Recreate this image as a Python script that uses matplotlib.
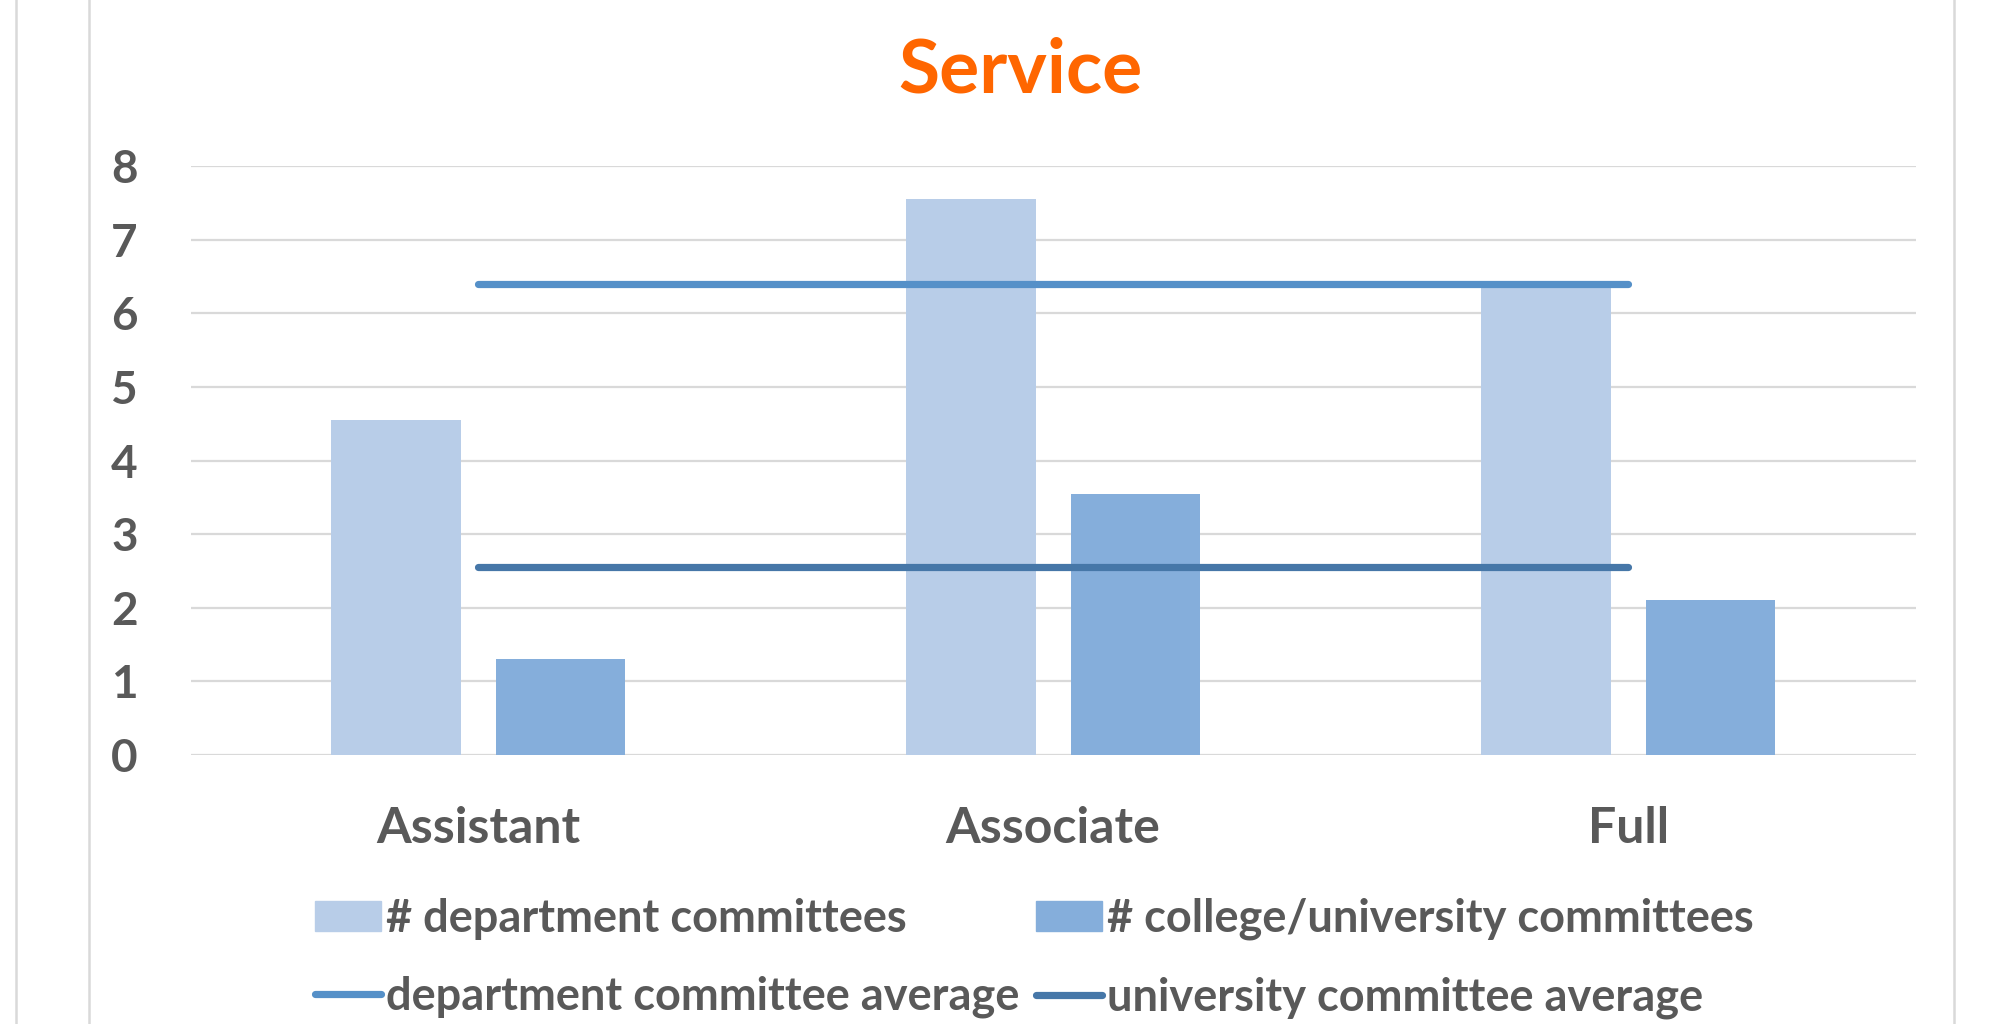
import matplotlib
matplotlib.use("Agg")
import matplotlib.pyplot as plt
import numpy as np
from matplotlib.lines import Line2D
from matplotlib.patches import Patch

plt.rcParams['font.family'] = ['Lato', 'DejaVu Sans']
plt.rcParams['font.weight'] = 'bold'

categories = ["Assistant", "Associate", "Full"]
dept_committees = [4.55, 7.55, 6.35]
college_committees = [1.3, 3.55, 2.1]
dept_avg = [6.4, 6.4, 6.4]
univ_avg = [2.55, 2.55, 2.55]
yticks = [0, 1, 2, 3, 4, 5, 6, 7, 8]

c_dept = "#B8CDE8"
c_coll = "#85AEDB"
c_davg = "#5590C8"
c_uavg = "#4677A8"
c_text = "#595959"
c_grid = "#D9D9D9"

W, H = 1992, 1024
fig = plt.figure(figsize=(W / 100, H / 100), dpi=100)
ax = fig.add_axes([190.6 / W, 1 - 754.6 / H, (1915.8 - 190.6) / W, (754.6 - 166.4) / H])

x = np.arange(len(categories))
bw = 0.225
off = 0.143
ax.bar(x - off, dept_committees, bw, color=c_dept, zorder=2)
ax.bar(x + off, college_committees, bw, color=c_coll, zorder=2)
ax.plot(x, dept_avg, color=c_davg, lw=5.2, solid_capstyle='round', zorder=3)
ax.plot(x, univ_avg, color=c_uavg, lw=5.2, solid_capstyle='round', zorder=3)

ax.set_xlim(-0.5, 2.5)
ax.set_ylim(0, 8)
ax.set_yticks(yticks)
ax.set_yticklabels([str(v) for v in yticks])
ax.set_xticks(x)
ax.set_xticklabels(categories)
ax.grid(axis='y', color=c_grid, lw=1.6, zorder=0)
ax.set_axisbelow(True)
for s in ['top', 'right', 'left', 'bottom']:
    ax.spines[s].set_visible(False)
ax.tick_params(axis='y', length=0, pad=38, labelsize=33, labelcolor=c_text)
ax.tick_params(axis='x', length=0, pad=37, labelsize=36, labelcolor=c_text)
for lbl in ax.get_xticklabels() + ax.get_yticklabels():
    lbl.set_fontweight('bold')

fig.text(1020 / W, 1 - 71 / H, "Service", color="#FF6600", fontsize=54,
         fontweight='bold', ha='center', va='center')

handles = [Patch(color=c_dept), Line2D([], [], color=c_davg, lw=5.2, solid_capstyle='round'),
           Patch(color=c_coll), Line2D([], [], color=c_uavg, lw=5.2, solid_capstyle='round')]
labels = ["# department committees", "department committee average",
          "# college/university committees", "university committee average"]
leg = fig.legend(handles, labels, ncol=2, loc='upper left',
                 bbox_to_anchor=(315 / W, 1 - 898 / H), frameon=False,
                 fontsize=32.5, handlelength=1.46, handleheight=0.62,
                 handletextpad=0.115, columnspacing=0.36, labelspacing=0.79,
                 borderpad=0, borderaxespad=0)
for t in leg.get_texts():
    t.set_color(c_text)
    t.set_fontweight('bold')

# outer chart frames
for xf in (16, 89, 1954):
    fig.add_artist(Line2D([xf / W, xf / W], [0, 1], color=c_grid, lw=1.8,
                          transform=fig.transFigure))

fig.savefig("out.png", dpi=100)
